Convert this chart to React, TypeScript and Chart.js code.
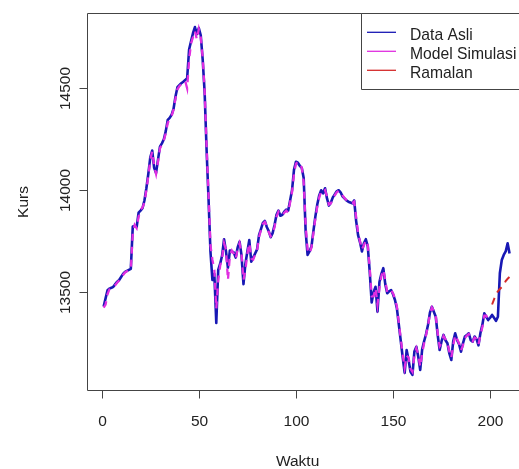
import React, { useEffect, useRef } from "react";
import { Chart, registerables } from "chart.js";

Chart.register(...registerables);

// Series values (t = 1..N)
const dataAsli = [
  13430, 13470, 13510, 13518, 13522, 13527, 13540, 13552, 13560, 13575,
  13590, 13600, 13605, 13610, 13615, 13822, 13825, 13820, 13890, 13900,
  13912, 13950, 14010, 14080, 14160, 14195, 14110, 14085, 14150, 14214,
  14230, 14250, 14290, 14345, 14355, 14370, 14400, 14460, 14505, 14515,
  14525, 14532, 14540, 14550, 14690, 14730, 14770, 14800, 14765, 14795,
  14760, 14640, 14480, 14200, 13960, 13700, 13560, 13590, 13350, 13610,
  13640, 13680, 13760, 13700, 13620, 13705, 13700, 13695, 13670, 13720,
  13748, 13680, 13540, 13640, 13700, 13756, 13650, 13670, 13690, 13710,
  13780, 13810, 13840, 13850, 13820, 13800, 13770, 13790, 13830, 13880,
  13900, 13875, 13880, 13895, 13905, 13900, 13950, 14000, 14100, 14140,
  14135, 14120, 14110, 14060, 13800, 13683, 13700, 13724, 13800, 13870,
  13930, 13975, 14000, 13985, 14010, 13960, 13925, 13940, 13965, 13980,
  13995, 14000, 13990, 13970, 13960, 13950, 13944, 13940, 13936, 13950,
  13850, 13780, 13745, 13700, 13740, 13760, 13725, 13600, 13450, 13500,
  13527, 13405, 13550, 13590, 13618, 13540, 13495, 13505, 13511, 13490,
  13462, 13420, 13340, 13260, 13180, 13105, 13217, 13168, 13110, 13095,
  13210, 13233, 13184, 13119, 13220, 13260, 13295, 13340, 13400, 13429,
  13405, 13380, 13290, 13217, 13260, 13291, 13265, 13250, 13200, 13168,
  13260, 13299, 13265, 13245, 13209, 13250, 13283, 13290, 13299, 13265,
  13258, 13283, 13270, 13240, 13300, 13340, 13397, 13380, 13364, 13375,
  13389, 13375, 13360, 13380, 13593, 13658, 13683, 13700, 13740, 13690,
];

const modelSimulasi = [
  13425, 13440, 13490, 13515, 13520, 13525, 13535, 13548, 13558, 13570,
  13585, 13597, 13603, 13608, 13612, 13790, 13830, 13815, 13870, 13905,
  13915, 13940, 14000, 14070, 14150, 14190, 14120, 14080, 14140, 14205,
  14225, 14245, 14280, 14330, 14350, 14365, 14395, 14450, 14495, 14510,
  14520, 14528, 14535, 14500, 14640, 14720, 14750, 14780, 14740, 14790,
  14750, 14650, 14490, 14220, 13980, 13730, 13660, 13610, 13420, 13560,
  13630, 13670, 13740, 13710, 13560, 13680, 13705, 13690, 13665, 13710,
  13740, 13690, 13560, 13610, 13690, 13740, 13665, 13660, 13685, 13705,
  13770, 13805, 13835, 13845, 13825, 13795, 13775, 13785, 13820, 13870,
  13895, 13880, 13878, 13890, 13900, 13890, 13940, 13990, 14080, 14130,
  14140, 14125, 14112, 14040, 13830, 13710, 13690, 13720, 13790, 13860,
  13920, 13965, 13995, 13990, 14000, 13970, 13930, 13935, 13960, 13975,
  13990, 13998, 13992, 13975, 13962, 13952, 13946, 13942, 13938, 13945,
  13870, 13790, 13750, 13710, 13730, 13755, 13730, 13620, 13480, 13480,
  13520, 13440, 13520, 13580, 13610, 13560, 13500, 13500, 13510, 13495,
  13468, 13430, 13350, 13270, 13195, 13130, 13190, 13180, 13125, 13110,
  13190, 13225, 13195, 13135, 13200, 13250, 13290, 13335, 13395, 13425,
  13410, 13385, 13300, 13235, 13250, 13285, 13270, 13252, 13210, 13180,
  13240, 13290, 13270, 13250, 13215, 13240, 13275, 13288, 13295, 13270,
  13260, 13278, 13272, 13245, 13290, 13330, 13385, 13385, 13368, 13372,
];

const ramalanStart = 201;
const ramalan = [13440, 13465, 13490, 13505, 13516, 13526, 13535, 13555, 13566, 13575];

const xTicks = [0, 50, 100, 150, 200];
const yTicks = [13500, 14000, 14500];
const seriesNames = ["Data Asli", "Model Simulasi", "Ramalan"];
const seriesColors = ["#1818b4", "#e02ee0", "#d42a2a"];
const xTitle = "Waktu";
const yTitle = "Kurs";

const FONT = "'Liberation Sans', Arial, sans-serif";

const rPlotPlugin = {
  id: "rPlot",
  afterDraw(chart: any) {
    const ctx = chart.ctx as CanvasRenderingContext2D;
    const a = chart.chartArea;
    const xs = chart.scales.x;
    const ys = chart.scales.y;
    const L = Math.round(a.left) + 0.5;
    const T = Math.round(a.top) + 0.5;
    const B = Math.round(a.bottom) - 0.5;
    const R = Math.round(a.right) + 0.5;
    ctx.save();
    ctx.strokeStyle = "#444";
    ctx.lineWidth = 1;
    ctx.beginPath();
    ctx.rect(L, T, R - L, B - T);
    ctx.stroke();

    ctx.fillStyle = "#222";
    ctx.font = `15.5px ${FONT}`;
    // x axis ticks & labels
    ctx.textAlign = "center";
    ctx.textBaseline = "alphabetic";
    xTicks.forEach((v) => {
      const px = Math.round(xs.getPixelForValue(v)) + 0.5;
      ctx.beginPath();
      ctx.moveTo(px, B);
      ctx.lineTo(px, B + 8);
      ctx.stroke();
      ctx.fillText(String(v), px, a.bottom + 34.5);
    });
    ctx.fillText(xTitle, (a.left + a.right) / 2 - 9, a.bottom + 75);
    // y axis ticks & labels
    yTicks.forEach((v) => {
      const py = Math.round(ys.getPixelForValue(v)) + 0.5;
      ctx.beginPath();
      ctx.moveTo(L, py);
      ctx.lineTo(L - 8, py);
      ctx.stroke();
      ctx.save();
      ctx.translate(a.left - 17.5, py);
      ctx.rotate(-Math.PI / 2);
      ctx.fillText(String(v), 0, 0);
      ctx.restore();
    });
    ctx.save();
    ctx.translate(a.left - 59.5, (a.top + a.bottom) / 2);
    ctx.rotate(-Math.PI / 2);
    ctx.fillText(yTitle, 0, 0);
    ctx.restore();

    // legend (topright)
    const lx = 361.5;
    const lh = 76;
    ctx.fillStyle = "#fff";
    ctx.fillRect(lx, T, R - lx, lh);
    ctx.strokeStyle = "#444";
    ctx.beginPath();
    ctx.rect(lx, T, R - lx, lh);
    ctx.stroke();
    ctx.font = `15.7px ${FONT}`;
    ctx.textAlign = "left";
    seriesNames.forEach((name, i) => {
      const base = a.top + 26.7 + 19 * i;
      const ly = base - 7.4;
      ctx.strokeStyle = seriesColors[i];
      ctx.lineWidth = 1.3;
      ctx.beginPath();
      ctx.moveTo(lx + 5.5, ly);
      ctx.lineTo(lx + 34.5, ly);
      ctx.stroke();
      ctx.fillStyle = "#222";
      ctx.fillText(name, lx + 48.5, base);
    });
    ctx.restore();
  },
};

export default function App() {
  const ref = useRef<HTMLCanvasElement | null>(null);
  useEffect(() => {
    if (!ref.current) return;
    const asliPts = dataAsli.map((v, i) => ({ x: i + 1, y: v }));
    const simPts = modelSimulasi.map((v, i) => ({ x: i + 1, y: v }));
    const ramPts = ramalan.map((v, i) => ({ x: ramalanStart + i, y: v }));
    const chart = new Chart(ref.current, {
      type: "line",
      data: {
        datasets: [
          {
            label: seriesNames[0],
            data: asliPts,
            borderColor: seriesColors[0],
            borderWidth: 2.6,
            pointRadius: 0,
            tension: 0,
            borderJoinStyle: "round",
            order: 3,
          },
          {
            label: seriesNames[1],
            data: simPts,
            borderColor: seriesColors[1],
            borderWidth: 2.3,
            borderDash: [7, 6],
            pointRadius: 0,
            tension: 0,
            order: 2,
          },
          {
            label: seriesNames[2],
            data: ramPts,
            borderColor: seriesColors[2],
            borderWidth: 2,
            borderDash: [7, 6],
            pointRadius: 0,
            tension: 0,
            order: 1,
          },
        ],
      },
      options: {
        animation: false,
        responsive: false,
        layout: { padding: { left: 87.4, right: 4.2, top: 13, bottom: 78 } },
        scales: {
          x: { type: "linear", min: -7.36, max: 218.36, display: false },
          y: { type: "linear", min: 13016, max: 14869, display: false },
        },
        plugins: {
          legend: { display: false },
          tooltip: { enabled: false },
        },
      },
      plugins: [rPlotPlugin],
    } as any);
    return () => chart.destroy();
  }, []);
  return (
    <div
      style={{
        position: "fixed",
        left: 0,
        top: 0,
        width: 519,
        height: 469,
        overflow: "hidden",
        background: "#fff",
      }}
    >
      <canvas ref={ref} width={530} height={469} style={{ display: "block" }} />
    </div>
  );
}
